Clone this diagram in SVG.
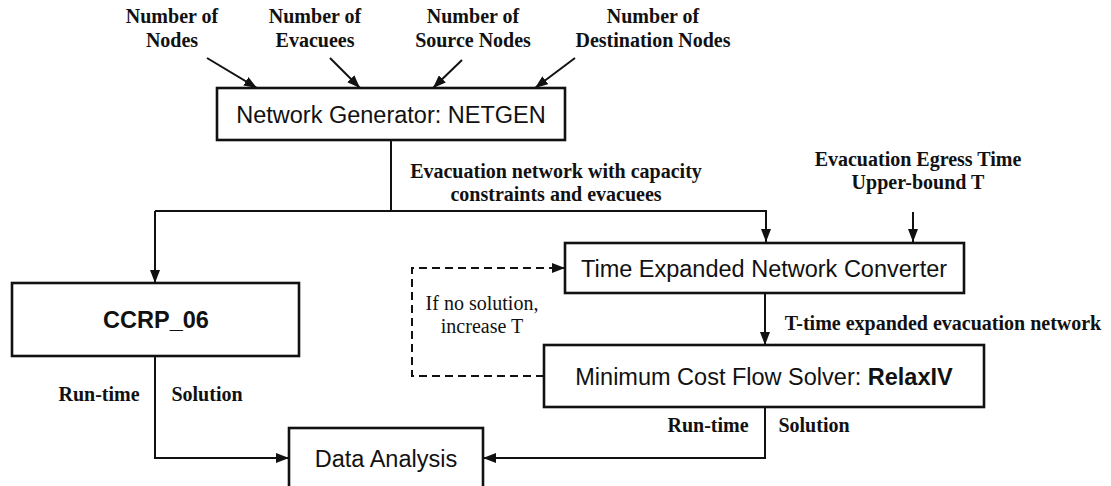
<svg xmlns="http://www.w3.org/2000/svg" width="1111" height="486" viewBox="0 0 1111 486">
<style>
.box{fill:#fff;stroke:#111;stroke-width:2.6}
.bt{font-family:"Liberation Sans",Arial,sans-serif;font-size:23.5px;fill:#111;text-anchor:middle}
.lb{font-family:"Liberation Serif","Times New Roman",serif;font-size:20px;font-weight:bold;fill:#111;text-anchor:middle}
.lr{font-family:"Liberation Serif","Times New Roman",serif;font-size:20px;fill:#111;text-anchor:middle}
.c{fill:none;stroke:#111;stroke-width:2}
.d{fill:none;stroke:#111;stroke-width:2;stroke-dasharray:8,5}
</style>
<defs>
<marker id="ah" markerUnits="userSpaceOnUse" markerWidth="13" markerHeight="10" refX="13" refY="5" orient="auto">
<path d="M0,0 L13,5 L0,10 z" fill="#111"/>
</marker>
</defs>
<rect width="1111" height="486" fill="#fff"/>
<g id="labels">
<text class="lb" x="172" y="23">Number of</text>
<text class="lb" x="172" y="47">Nodes</text>
<text class="lb" x="315" y="23">Number of</text>
<text class="lb" x="315" y="47">Evacuees</text>
<text class="lb" x="473" y="23">Number of</text>
<text class="lb" x="473" y="47">Source Nodes</text>
<text class="lb" x="653" y="23">Number of</text>
<text class="lb" x="653" y="47">Destination Nodes</text>
<text class="lb" x="556" y="178">Evacuation network with capacity</text>
<text class="lb" x="556" y="201">constraints and evacuees</text>
<text class="lb" x="918" y="166">Evacuation Egress Time</text>
<text class="lb" x="918" y="189">Upper-bound T</text>
<text class="lb" x="943" y="330">T-time expanded evacuation network</text>
<text class="lr" x="482" y="310">If no solution,</text>
<text class="lr" x="482" y="333">increase T</text>
<text class="lb" x="99" y="401">Run-time</text>
<text class="lb" x="207" y="401">Solution</text>
<text class="lb" x="708" y="432">Run-time</text>
<text class="lb" x="814" y="432">Solution</text>
</g>
<g id="connectors">
<line class="c" x1="207" y1="58" x2="257" y2="88" marker-end="url(#ah)"/>
<line class="c" x1="330" y1="58" x2="360" y2="88" marker-end="url(#ah)"/>
<line class="c" x1="462" y1="60" x2="433" y2="88" marker-end="url(#ah)"/>
<line class="c" x1="575" y1="58" x2="535" y2="88" marker-end="url(#ah)"/>
<line class="c" x1="391" y1="140" x2="391" y2="211"/>
<path class="c" d="M155,211 H766 V242" marker-end="url(#ah)"/>
<path class="c" d="M155,211 V283" marker-end="url(#ah)"/>
<line class="c" x1="913" y1="212" x2="913" y2="242" marker-end="url(#ah)"/>
<line class="c" x1="765" y1="293" x2="765" y2="345" marker-end="url(#ah)"/>
<path class="d" d="M544,376 H412 V268 H565" marker-end="url(#ah)"/>
<path class="c" d="M155,356 V458 H289" marker-end="url(#ah)"/>
<path class="c" d="M765,407 V458 H483" marker-end="url(#ah)"/>
</g>
<g id="netgen">
<rect class="box" x="217" y="88" width="348" height="52"/>
<text class="bt" x="391" y="122.5">Network Generator: NETGEN</text>
</g>
<g id="ten">
<rect class="box" x="565" y="243" width="399" height="50"/>
<text class="bt" x="764" y="276.5">Time Expanded Network Converter</text>
</g>
<g id="ccrp">
<rect class="box" x="12" y="283" width="287" height="73"/>
<text class="bt" x="156" y="328" font-weight="bold">CCRP_06</text>
</g>
<g id="mcfs">
<rect class="box" x="544" y="345" width="440" height="62"/>
<text class="bt" x="764" y="384.5">Minimum Cost Flow Solver: <tspan font-weight="bold">RelaxIV</tspan></text>
</g>
<g id="data">
<rect class="box" x="289" y="428" width="194" height="62"/>
<text class="bt" x="386" y="467">Data Analysis</text>
</g>
</svg>
